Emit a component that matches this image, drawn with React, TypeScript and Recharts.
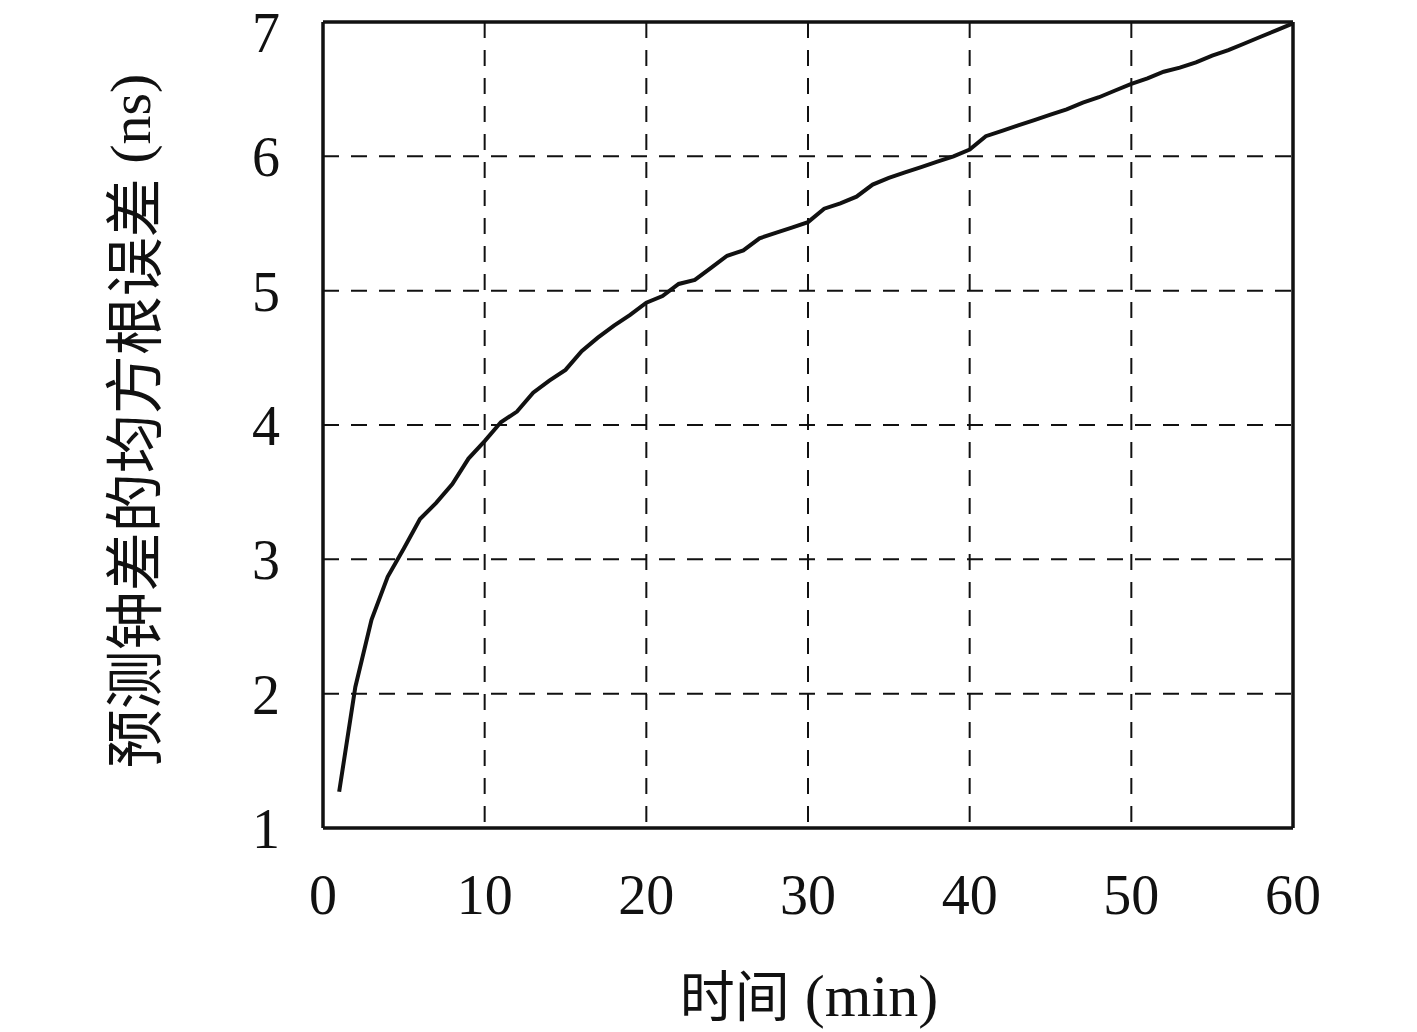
import { LineChart, Line, XAxis, YAxis, CartesianGrid, Label } from 'recharts'

// 预测时长 (min) 与对应的钟差预测均方根误差 (ns)
const minutes = [
  1, 2, 3, 4, 5, 6, 7, 8, 9, 10,
  11, 12, 13, 14, 15, 16, 17, 18, 19, 20,
  21, 22, 23, 24, 25, 26, 27, 28, 29, 30,
  31, 32, 33, 34, 35, 36, 37, 38, 39, 40,
  41, 42, 43, 44, 45, 46, 47, 48, 49, 50,
  51, 52, 53, 54, 55, 56, 57, 58, 59, 60,
]
const rmse = [
  1.27, 2.05, 2.55, 2.87, 3.08, 3.3, 3.42, 3.56, 3.75, 3.88,
  4.02, 4.1, 4.24, 4.33, 4.41, 4.55, 4.65, 4.74, 4.82, 4.91,
  4.96, 5.05, 5.08, 5.17, 5.26, 5.3, 5.39, 5.43, 5.47, 5.51,
  5.61, 5.65, 5.7, 5.79, 5.84, 5.88, 5.92, 5.96, 6.0, 6.05,
  6.15, 6.19, 6.23, 6.27, 6.31, 6.35, 6.4, 6.44, 6.49, 6.54,
  6.58, 6.63, 6.66, 6.7, 6.75, 6.79, 6.84, 6.89, 6.94, 6.99,
]
const xTicks = [0, 10, 20, 30, 40, 50, 60]
const yTicks = [1, 2, 3, 4, 5, 6, 7]

// 轴标题：中文部分与括号单位分开排版
const X_TITLE = ['时间', ' (min)']
const Y_TITLE = ['预测钟差的均方根误差', ' (ns)']

const SERIF = '"Liberation Serif", "Noto Sans CJK SC", serif'
const CJK = '"Noto Sans CJK SC", serif'
const INK = '#111'

const data = minutes.map((t, i) => ({ t, v: rmse[i] }))

export default function App() {
  const tick = { fontSize: 56, fill: INK, fontFamily: SERIF }
  const frame = { stroke: INK, strokeWidth: 3.5 }
  return (
    <div style={{ position: 'absolute', left: 0, top: 0, width: 1417, height: 1032, background: '#fff' }}>
      <LineChart width={1417} height={1032} data={data} margin={{ top: 21, right: 123, bottom: 0, left: 0 }}>
        <CartesianGrid stroke={INK} strokeWidth={2} strokeDasharray="16 12" verticalValues={xTicks} horizontalValues={yTicks} xAxisId="b" yAxisId="l" />
        <XAxis
          xAxisId="b"
          dataKey="t"
          type="number"
          domain={[0, 60]}
          ticks={xTicks}
          height={204}
          tick={tick}
          tickLine={false}
          tickSize={0}
          tickMargin={46}
          axisLine={frame}
        >
          <Label
            content={({ viewBox }: any) => (
              <text x={viewBox.x + viewBox.width / 2 + 1} y={viewBox.y + 188} textAnchor="middle" fill={INK}>
                <tspan fontFamily={CJK} fontSize={55}>{X_TITLE[0]}</tspan>
                <tspan fontFamily={SERIF} fontSize={60}>{X_TITLE[1]}</tspan>
              </text>
            )}
          />
        </XAxis>
        <XAxis xAxisId="t" orientation="top" dataKey="t" type="number" domain={[0, 60]} ticks={xTicks} height={1} tick={false} tickLine={false} axisLine={frame} />
        <YAxis
          yAxisId="l"
          type="number"
          domain={[1, 7]}
          ticks={yTicks}
          width={323}
          tick={tick}
          tickLine={false}
          tickSize={0}
          tickMargin={43}
          axisLine={frame}
        >
          <Label
            content={() => {
              const cx = 130
              const cy = 421
              return (
                <text x={cx} y={cy} transform={`rotate(-90 ${cx} ${cy})`} textAnchor="middle" dominantBaseline="central" fill={INK}>
                  <tspan fontFamily={CJK} fontSize={59}>{Y_TITLE[0]}</tspan>
                  <tspan fontFamily={SERIF} fontSize={58}>{Y_TITLE[1]}</tspan>
                </text>
              )
            }}
          />
        </YAxis>
        <YAxis yAxisId="r" orientation="right" type="number" domain={[1, 7]} ticks={yTicks} width={1} tick={false} tickLine={false} axisLine={frame} />
        <Line xAxisId="b" yAxisId="l" type="linear" dataKey="v" stroke={INK} strokeWidth={4} dot={false} isAnimationActive={false} />
      </LineChart>
    </div>
  )
}
